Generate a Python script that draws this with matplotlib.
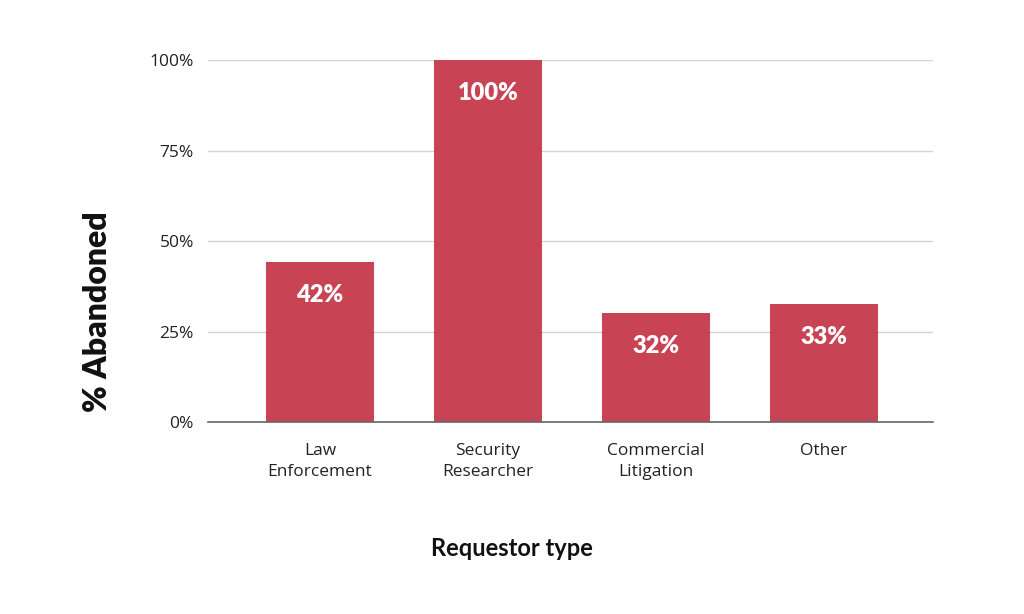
import matplotlib.pyplot as plt
import numpy as np

categories = ["Law\nEnforcement", "Security\nResearcher", "Commercial\nLitigation", "Other"]
abandoned = [0.443, 1.0, 0.30, 0.327]
bar_labels = ["42%", "100%", "32%", "33%"]
y_ticks = [0, 0.25, 0.5, 0.75, 1.0]
y_tick_labels = ["0%", "25%", "50%", "75%", "100%"]

bar_color = "#C84455"

fig = plt.figure(figsize=(10.24, 6.14), dpi=100)
ax = fig.add_axes([0.203, 0.3127, 0.708, 0.5893])

x = np.arange(len(categories))
bars = ax.bar(x, abandoned, width=0.64, color=bar_color, zorder=3)

for b, lab in zip(bars, bar_labels):
    ax.annotate(lab, (b.get_x() + b.get_width() / 2, b.get_height()),
                xytext=(0, -33), textcoords="offset pixels",
                ha="center", va="center", color="white", fontsize=17,
                fontweight="heavy", family="Lato", zorder=4)

ax.set_xlim(-0.667, 3.648)
ax.set_ylim(0, 1.0)
ax.set_yticks(y_ticks)
ax.set_yticklabels(y_tick_labels, family="Open Sans", fontsize=12.5, color="#222222")
ax.set_xticks(x)
ax.set_xticklabels(categories, family="Open Sans", fontsize=12.5, color="#222222",
                   linespacing=1.4)
ax.tick_params(axis="both", length=0)
ax.tick_params(axis="x", pad=15)
ax.tick_params(axis="y", pad=10)

ax.grid(axis="y", color="#d3d3d3", linewidth=1, zorder=0)
for s in ["top", "right", "left"]:
    ax.spines[s].set_visible(False)
ax.spines["bottom"].set_color("#666666")
ax.spines["bottom"].set_linewidth(1.2)
ax.spines["bottom"].set_zorder(5)

fig.text(0.095, 0.493, "% Abandoned", rotation=90, ha="center", va="center",
         fontsize=23, fontweight="heavy", family="Lato", color="#111111")
fig.text(0.5, 0.107, "Requestor type", ha="center", va="center",
         fontsize=17, fontweight="bold", family="Lato", color="#111111")

fig.savefig("out.png", dpi=100)
